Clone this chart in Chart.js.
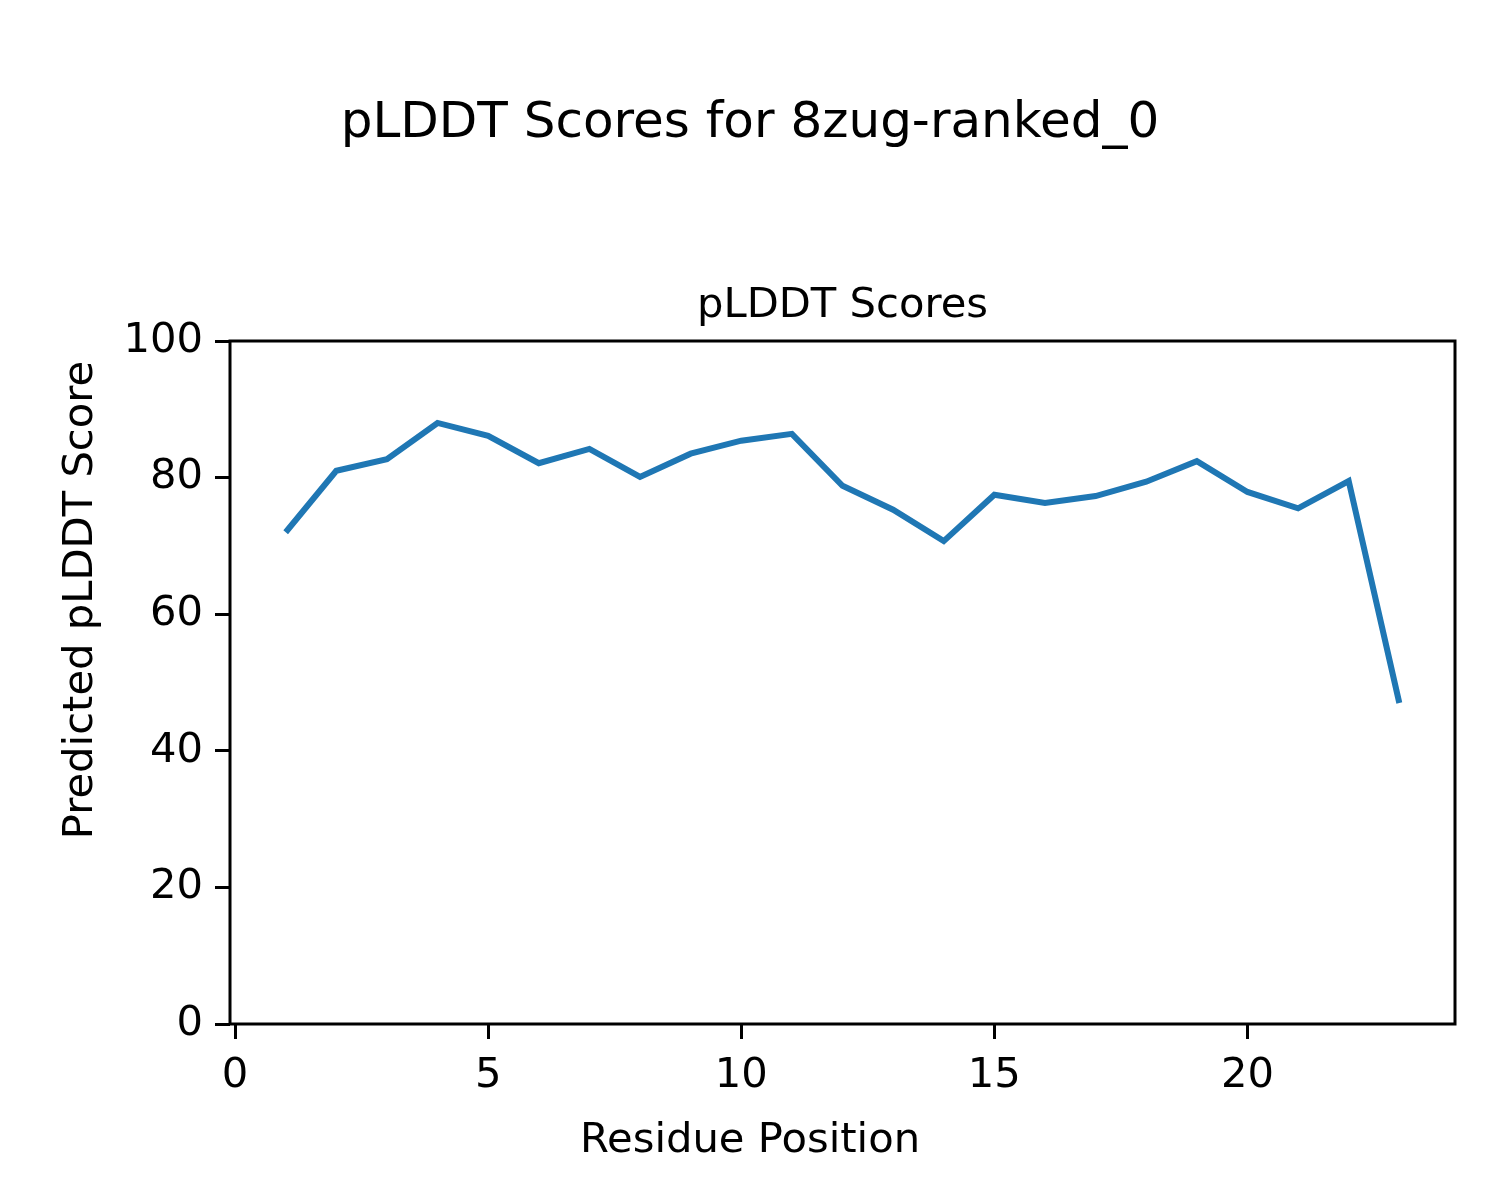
<!DOCTYPE html>
<html>
<head>
<meta charset="utf-8">
<script src="https://cdn.jsdelivr.net/npm/chart.js@4.4.1/dist/chart.umd.min.js"></script>
<style>
  html, body { margin: 0; padding: 0; background: #fff; }
  #wrap { width: 1500px; height: 1200px; }
</style>
</head>
<body>
<div id="wrap"><canvas id="c" width="1500" height="1200"></canvas></div>
<script>
// residue positions and pLDDT values
const residues = [1, 2, 3, 4, 5, 6, 7, 8, 9, 10, 11, 12, 13, 14, 15, 16, 17, 18, 19, 20, 21, 22, 23];
const plddt = [72.0, 81.0, 82.7, 88.0, 86.1, 82.1, 84.2, 80.1, 83.5, 85.4, 86.4, 78.8,
               75.3, 70.7, 77.5, 76.3, 77.3, 79.4, 82.4, 77.9, 75.5, 79.5, 47.0];
const xTicks = [0, 5, 10, 15, 20];
const yTicks = [0, 20, 40, 60, 80, 100];

const suptitle = 'pLDDT Scores for 8zug-ranked_0';
const axTitle = 'pLDDT Scores';
const xLabel = 'Residue Position';
const yLabel = 'Predicted pLDDT Score';

const FONT = '"DejaVu Sans", sans-serif';

// box around the axes + figure-level titles/labels (matplotlib sup* style)
const frame = {
  id: 'frame',
  afterDraw(chart) {
    const ctx = chart.ctx, a = chart.chartArea;
    ctx.save();
    ctx.strokeStyle = '#000';
    ctx.lineWidth = 3;
    ctx.strokeRect(a.left, a.top, a.right - a.left, a.bottom - a.top);
    ctx.fillStyle = '#000';
    ctx.textAlign = 'center';
    ctx.textBaseline = 'alphabetic';
    ctx.font = '50px ' + FONT;
    ctx.fillText(suptitle, 750, 137);
    ctx.font = '41.7px ' + FONT;
    ctx.fillText(axTitle, (a.left + a.right) / 2, 317);
    ctx.fillText(xLabel, 750, 1152);
    ctx.translate(92, 600);
    ctx.rotate(-Math.PI / 2);
    ctx.fillText(yLabel, 0, 0);
    ctx.restore();
  }
};

const tickFont = { family: FONT, size: 41.7 };

new Chart(document.getElementById('c'), {
  type: 'line',
  data: {
    datasets: [{
      data: residues.map((r, i) => ({ x: r, y: plddt[i] })),
      borderColor: '#1f77b4',
      borderWidth: 6,
      pointRadius: 0,
      tension: 0,
      fill: false
    }]
  },
  options: {
    responsive: false,
    animation: false,
    devicePixelRatio: 1,
    layout: { padding: { left: 52, top: 341, right: 45, bottom: 0 } },
    plugins: { legend: { display: false }, tooltip: { enabled: false }, title: { display: false } },
    scales: {
      x: {
        type: 'linear',
        min: -0.1,
        max: 24.1,
        afterBuildTicks: s => { s.ticks = xTicks.map(v => ({ value: v })); },
        afterFit: s => { s.height = 176; },
        border: { display: false },
        grid: { drawOnChartArea: false, tickLength: 15, lineWidth: 3, color: '#000' },
        ticks: { color: '#000', font: tickFont, padding: 12, maxRotation: 0, autoSkip: false }
      },
      y: {
        type: 'linear',
        min: 0,
        max: 100,
        afterBuildTicks: s => { s.ticks = yTicks.map(v => ({ value: v })); },
        afterFit: s => { s.width = 178; },
        border: { display: false },
        grid: { drawOnChartArea: false, tickLength: 15, lineWidth: 3, color: '#000' },
        ticks: { color: '#000', font: tickFont, padding: 12, autoSkip: false }
      }
    }
  },
  plugins: [frame]
});
</script>
</body>
</html>
